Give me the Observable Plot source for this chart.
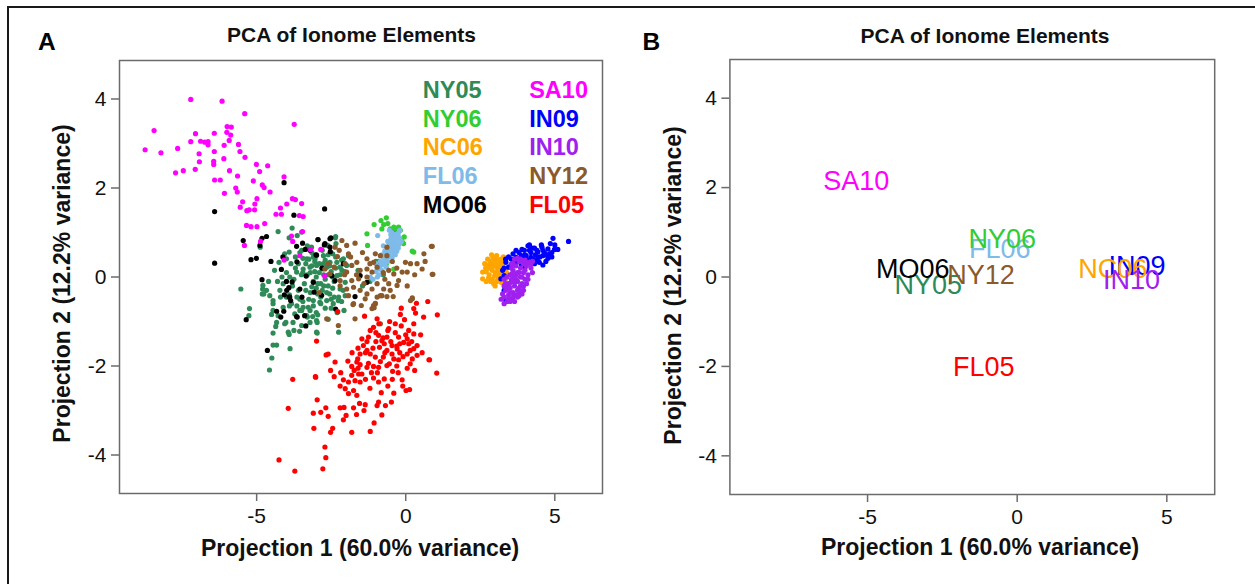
<!DOCTYPE html>
<html><head><meta charset="utf-8">
<script src="https://cdn.jsdelivr.net/npm/d3@7"></script>
<script src="https://cdn.jsdelivr.net/npm/@observablehq/plot@0.6"></script>
<style>
body{margin:0;background:#fff;}
#fig{position:relative;width:1255px;height:584px;overflow:hidden;background:#fff;}
#border{position:absolute;left:7px;top:6px;width:1300px;height:700px;border-top:2px solid #1a1a1a;border-left:2px solid #1a1a1a;}
#panels{position:absolute;left:0;top:0;display:flex;}
#panels svg{display:block;max-width:none;}
</style></head><body>
<div id="fig"><div id="border"></div><div id="panels"></div></div>
<script>
const FONT = "'Liberation Sans', Arial, Helvetica, sans-serif";
const titleText = "PCA of Ionome Elements";
const xLabel = "Projection 1 (60.0% variance)";
const yLabel = "Projection 2 (12.2% variance)";
const xTicks = [-5, 0, 5];
const yTicks = [-4, -2, 0, 2, 4];
const xDomain = [-9.6, 6.6];
const yDomain = [-4.865, 4.865];

const seriesNames  = ["NY05","NY06","NC06","FL06","MO06","SA10","IN09","IN10","NY12","FL05"];
const seriesColors = ["#2E8B57","#32CD32","#FFA500","#7EBBE9","#000000","#FF00FF","#0000FF","#A020F0","#8B5A2B","#FF0000"];
const legendCol1 = ["NY05","NY06","NC06","FL06","MO06"];
const legendCol2 = ["SA10","IN09","IN10","NY12","FL05"];

// Panel B: group label positions
const centroidX = [-2.97, -0.50, 3.19, -0.58, -3.49, -5.38, 4.00, 3.82, -1.21, -1.12];
const centroidY = [-0.19,  0.85, 0.17,  0.62,  0.17,  2.13, 0.24, -0.08, 0.03, -2.03];

// Panel A: sample points [projection1, projection2]
const NY05 = [[-3.81,1.10],[-4.28,1.02],[-4.88,0.67],[-3.64,0.93],[-3.49,1.01],[-3.91,0.88],[-2.95,0.84],[-2.35,0.91],[-2.34,0.75],[-2.62,0.71],[-3.16,0.67],[-2.76,0.48],[-2.45,0.52],[-3.04,0.41],[-3.49,0.60],[-3.91,0.56],[-4.06,0.52],[-4.00,0.41],[-3.32,0.41],[-4.25,0.33],[-5.53,-0.27],[-5.24,-0.71],[-5.26,-0.87],[-4.79,-0.19],[-4.67,-0.30],[-4.81,-0.38],[-4.56,-0.42],[-4.45,-0.53],[-4.45,-0.75],[-4.28,-0.87],[-4.33,-1.02],[-4.06,-1.05],[-3.78,-1.02],[-3.49,-1.09],[-3.21,-1.02],[-2.99,-0.98],[-3.94,-1.24],[-3.56,-1.22],[-2.99,-1.24],[-4.22,-0.30],[-4.11,-0.15],[-3.89,0.00],[-3.66,0.11],[-3.44,0.18],[-3.21,0.22],[-2.99,0.26],[-2.76,0.30],[-2.54,0.33],[-2.31,0.33],[-2.09,0.41],[-1.92,0.48],[-1.98,0.26],[-2.14,0.15],[-2.31,0.03],[-2.03,-0.12],[-2.20,-0.27],[-2.03,-0.42],[-2.26,-0.53],[-2.43,-0.60],[-2.65,-0.53],[-2.88,-0.57],[-3.10,-0.53],[-3.27,-0.68],[-3.49,-0.75],[-3.72,-0.83],[-3.83,-0.60],[-4.00,-0.45],[-4.11,-0.68],[-3.30,0.05],[-3.10,-0.10],[-2.90,0.10],[-2.70,-0.05],[-2.50,0.12],[-3.00,-0.25],[-2.80,-0.30],[-2.60,-0.20],[-3.20,-0.35],[-2.40,-0.10],[-2.90,0.30],[-3.15,0.25],[-2.65,0.22],[-2.75,0.05],[-3.05,0.12],[-3.40,-0.15],[-3.50,0.05],[-2.55,-0.38],[-2.85,-0.45],[-3.25,-0.50],[-2.35,0.20],[-2.20,0.05],[-3.60,-0.30],[-3.70,0.20],[-2.95,-0.15],[-3.35,0.30],[-2.45,-0.25],[-2.10,-0.30],[-2.70,0.38],[-3.55,-0.50],[-3.80,-0.20],[-2.25,-0.45],[-3.10,0.45],[-2.85,-0.60],[-3.45,0.42],[-2.60,0.50],[-4.00,0.10],[-3.90,-0.40],[-4.30,-0.10],[-4.40,0.15],[-2.15,0.38],[-3.65,-0.65],[-3.00,-0.80],[-2.50,-0.70],[-2.30,-0.80],[-3.30,-0.90],[-4.45,-0.60],[-4.76,-0.38],[-4.50,-0.84],[-4.45,-1.26],[-4.36,-1.11],[-4.02,-1.02],[-3.91,-1.29],[-3.88,-1.61],[-4.45,-1.53],[-4.57,-2.09],[-2.97,-1.26],[-2.25,-1.24],[-2.07,-0.75],[-2.97,-1.02],[-3.21,-0.75],[-3.44,-0.68],[-3.32,-0.87],[-3.55,-0.75],[-3.12,-0.89],[-4.33,-1.53],[-4.49,-1.82],[-4.80,-0.27],[-2.36,0.88],[-1.60,0.15],[-1.45,-0.20],[-1.00,0.35],[-0.75,0.05],[-0.90,0.35],[-1.20,-0.10],[-3.20,0.10],[-3.00,0.00],[-2.80,0.18],[-2.60,0.05],[-2.85,-0.15],[-3.15,-0.22],[-2.65,-0.35],[-2.45,0.00],[-3.35,-0.30],[-3.45,0.10],[-2.95,-0.38],[-2.75,-0.20],[-3.05,0.35],[-2.55,0.25],[-3.25,0.40],[-3.60,0.30],[-3.75,-0.05],[-3.65,-0.45],[-2.40,-0.45],[-2.35,0.45],[-3.10,-0.65],[-2.70,-0.70],[-3.45,-0.55],[-3.85,0.30],[-2.20,0.22],[-2.05,0.12],[-3.90,-0.65],[-4.20,-0.45],[-4.15,0.00],[-3.55,0.55],[-2.80,0.60],[-3.30,0.70],[-2.95,-0.85],[-3.75,-1.20],[-2.60,-0.95],[-3.70,0.45],[-4.60,-0.10],[-2.15,-0.55],[-2.50,-0.50],[-3.15,0.55]];
const NY06 = [[-1.06,1.18],[-0.83,1.27],[-0.65,1.33],[-0.74,1.18],[-0.80,1.08],[-0.52,1.08],[-0.40,1.12],[-0.24,1.12],[-0.35,1.01],[-1.28,0.71],[-0.07,0.75],[-0.12,0.78],[-0.29,1.01],[-0.40,0.67],[-0.65,0.30],[-1.30,0.97],[0.22,0.58],[-0.40,0.18],[-0.13,0.82],[0.27,0.56],[-0.45,1.05],[-0.30,1.08],[-0.18,1.05],[-0.60,1.20],[-0.05,0.90]];
const NC06 = [[2.58,0.11],[2.58,-0.04],[2.75,0.25],[2.80,0.05],[2.85,0.35],[2.90,0.15],[2.90,-0.05],[2.95,0.28],[3.00,0.42],[3.00,0.10],[3.05,-0.10],[3.10,0.30],[3.10,0.00],[3.15,0.18],[3.20,0.40],[3.20,-0.12],[3.25,0.25],[3.30,0.05],[3.35,0.35],[3.35,-0.05],[2.80,0.20],[2.95,-0.15],[3.05,0.22],[3.15,0.38],[2.70,0.12],[3.28,0.15],[2.85,-0.10],[3.00,0.32],[3.12,0.08],[2.92,0.45],[3.22,0.08],[3.40,0.20],[2.65,0.30],[2.70,-0.10],[2.75,0.40],[2.88,0.50],[3.05,0.48],[3.18,0.28],[3.28,0.45],[3.30,-0.15],[3.00,-0.20],[2.78,-0.02],[2.88,0.22],[3.08,0.35],[3.18,-0.02],[2.98,0.02],[3.38,0.10],[2.68,0.20],[3.10,0.15],[2.95,0.38],[3.25,0.32],[2.82,0.30]];
const FL06 = [[-0.55,1.05],[-0.45,1.00],[-0.35,0.95],[-0.25,0.98],[-0.40,0.90],[-0.30,0.85],[-0.20,0.88],[-0.50,0.85],[-0.45,0.78],[-0.35,0.75],[-0.25,0.72],[-0.55,0.70],[-0.60,0.62],[-0.50,0.60],[-0.40,0.62],[-0.30,0.58],[-0.65,0.50],[-0.55,0.48],[-0.45,0.45],[-0.70,0.40],[-0.60,0.35],[-0.75,0.28],[-0.85,0.25],[-0.90,0.18],[-1.00,0.12],[-0.80,0.15],[-0.65,0.22],[-0.95,0.00],[-1.10,-0.05],[-0.70,0.58],[-0.80,0.50],[-0.15,0.80],[-0.20,1.05],[-0.75,0.70],[-0.50,0.95],[-1.00,0.30],[-0.85,0.35],[-0.94,0.93],[-1.19,0.00],[-0.35,0.68],[-0.60,0.80],[-0.40,0.80],[-0.30,0.75],[-0.45,0.70],[-0.25,0.65],[-0.55,0.55],[-0.40,0.52],[-0.50,0.72],[-0.30,0.92],[-0.60,0.45],[-0.70,0.30],[-0.80,0.32],[-0.90,0.05],[-0.75,0.45],[-0.35,0.50],[-0.20,0.75]];
const MO06 = [[-4.08,2.12],[-2.72,1.53],[-6.41,1.47],[-3.75,1.39],[-4.67,0.91],[-4.82,0.87],[-5.45,0.82],[-4.89,0.71],[-6.41,0.31],[-5.19,0.39],[-5.01,0.42],[-4.52,0.35],[-4.12,0.45],[-3.66,0.69],[-3.37,0.62],[-2.94,0.84],[-2.54,0.86],[-2.54,0.67],[-2.73,0.72],[-2.53,0.57],[-2.99,0.49],[-3.65,0.34],[-4.17,0.17],[-2.81,0.20],[-4.82,-0.06],[-3.34,0.02],[-3.46,0.76],[-2.71,0.75],[-2.51,0.88],[-3.21,0.60],[-3.01,0.50],[-3.81,-0.11],[-4.00,-0.10],[-3.92,-0.24],[-3.99,-0.30],[-3.55,-0.27],[-3.91,-0.45],[-3.86,-0.53],[-4.33,-0.77],[-4.09,-0.77],[-3.64,-0.90],[-3.35,-1.10],[-5.35,-0.96],[-2.35,-0.72],[-3.10,-0.12],[-2.48,0.03],[-2.37,-0.08],[-2.09,0.30],[-1.70,-0.44],[-1.53,0.03],[-1.30,-0.12],[-0.44,0.99],[-4.64,-1.65],[-4.19,-0.90],[-3.66,-0.89],[-3.39,-0.87],[-3.48,-0.45],[-4.07,-0.40],[-3.89,-0.45],[-3.07,-0.34],[-2.82,-0.41]];
const SA10 = [[-7.21,3.99],[-6.16,3.95],[-5.40,3.67],[-3.74,3.43],[-8.44,3.29],[-7.05,3.22],[-6.42,3.23],[-5.99,3.38],[-5.85,3.37],[-6.00,3.25],[-5.87,3.19],[-7.21,3.04],[-6.88,3.05],[-6.74,3.03],[-6.63,3.04],[-6.63,2.97],[-5.92,3.07],[-6.09,2.96],[-5.61,2.98],[-8.74,2.86],[-8.21,2.79],[-7.65,2.89],[-6.93,2.77],[-6.42,2.82],[-5.56,2.82],[-5.39,2.69],[-6.10,2.66],[-6.92,2.59],[-6.44,2.60],[-6.44,2.53],[-5.01,2.53],[-4.63,2.50],[-7.72,2.34],[-7.46,2.39],[-7.06,2.42],[-5.91,2.39],[-4.90,2.37],[-5.64,2.27],[-4.08,2.25],[-6.41,2.18],[-6.22,2.18],[-5.11,2.16],[-4.81,2.07],[-4.75,2.01],[-5.70,2.00],[-5.65,1.91],[-6.08,1.88],[-4.55,1.91],[-4.99,1.76],[-5.47,1.69],[-5.06,1.64],[-5.55,1.57],[-3.80,1.76],[-3.70,1.74],[-3.99,1.64],[-3.49,1.65],[-5.33,1.49],[-5.25,1.51],[-5.07,1.51],[-4.20,1.55],[-4.35,1.41],[-4.17,1.41],[-3.57,1.38],[-3.44,1.36],[-5.34,1.16],[-5.19,1.13],[-4.99,1.13],[-4.73,1.20],[-3.46,1.02],[-3.83,0.92],[-4.87,0.80],[-3.79,0.80],[-5.41,0.71],[-3.55,0.48],[-4.08,0.38],[-3.19,0.61],[-2.85,0.62],[-2.72,0.02]];
const IN09 = [[4.94,0.87],[5.46,0.80],[4.15,0.72],[4.32,0.65],[4.57,0.67],[4.77,0.63],[4.99,0.62],[4.82,0.52],[4.60,0.48],[4.43,0.44],[4.20,0.44],[4.04,0.48],[3.87,0.48],[3.70,0.44],[3.53,0.41],[3.36,0.33],[3.53,0.26],[3.70,0.33],[3.87,0.30],[4.26,0.41],[4.60,0.27],[4.77,0.42],[3.25,0.15],[3.30,0.03],[3.19,-0.04],[3.30,-0.30],[3.36,-0.53],[3.98,0.60],[4.09,0.33],[4.43,0.56],[4.32,0.30],[3.76,0.41],[3.98,0.41],[4.48,0.33],[4.10,0.70],[3.60,0.35],[4.65,0.55],[3.45,0.22],[4.00,0.22],[4.40,0.60],[3.80,0.55],[4.00,0.50],[4.20,0.55],[4.35,0.50],[4.50,0.45],[4.70,0.50],[4.90,0.55],[5.00,0.72],[4.85,0.75],[4.60,0.60],[4.25,0.65],[3.60,0.52],[3.45,0.45],[3.35,0.40],[4.70,0.35],[4.40,0.38],[4.15,0.60],[3.90,0.62],[5.10,0.62],[4.55,0.72],[3.70,0.60],[4.90,0.45],[3.30,0.20],[4.05,0.40]];
const IN10 = [[4.15,0.33],[4.05,0.25],[4.20,0.20],[3.95,0.30],[3.85,0.20],[3.95,0.10],[4.10,0.05],[3.75,0.10],[3.85,0.00],[4.00,-0.05],[3.65,0.00],[3.75,-0.10],[3.90,-0.15],[3.55,-0.10],[3.65,-0.20],[3.80,-0.25],[3.50,-0.25],[3.60,-0.35],[3.70,-0.40],[3.45,-0.40],[3.35,-0.30],[3.25,-0.38],[3.40,-0.55],[3.55,-0.50],[3.30,-0.20],[3.45,-0.15],[3.60,0.15],[3.70,0.25],[3.50,0.05],[3.40,0.00],[3.95,-0.30],[3.85,-0.35],[4.05,-0.15],[3.75,-0.45],[3.30,-0.05],[4.25,0.10],[3.60,-0.45],[3.90,0.35],[3.80,0.35],[3.55,0.20],[4.10,0.32],[3.60,0.30],[3.80,0.10],[3.90,0.00],[3.70,-0.05],[3.55,-0.05],[3.65,-0.12],[3.75,-0.30],[3.85,-0.20],[3.50,-0.35],[3.40,-0.25],[3.45,-0.48],[3.65,-0.55],[3.30,-0.45],[3.20,-0.50],[3.55,0.30],[3.65,0.40],[3.85,0.40],[4.00,0.15],[4.20,0.30],[4.10,-0.05],[3.95,-0.20],[3.70,0.05],[3.58,0.08],[3.48,-0.15],[3.35,-0.15],[3.80,-0.42],[3.50,-0.55],[4.00,0.38],[4.25,0.35],[3.90,-0.38],[3.30,-0.60],[3.75,0.42]];
const NY12 = [[-2.14,0.82],[-1.98,0.71],[-1.70,0.76],[-2.23,0.60],[-1.92,0.52],[-2.29,0.46],[-2.03,0.30],[-1.81,0.26],[-1.64,0.33],[-1.53,0.15],[-1.30,0.18],[-1.98,0.11],[-2.20,-0.08],[-1.81,-0.08],[-1.58,-0.04],[-1.30,0.00],[-1.13,0.11],[-0.96,0.22],[-1.08,0.33],[-1.30,0.41],[-1.02,0.52],[-0.85,0.48],[-0.63,0.67],[-0.63,0.48],[-0.57,0.15],[-0.40,0.07],[-0.24,-0.08],[-0.57,-0.15],[-0.74,-0.27],[-0.96,-0.15],[-1.13,-0.27],[-1.30,-0.38],[-1.53,-0.30],[-1.75,-0.23],[-1.98,-0.27],[-1.92,-0.42],[-1.36,-0.49],[-1.02,-0.60],[-0.96,-0.45],[-0.85,-0.42],[-0.63,-0.44],[-0.52,-0.30],[-0.29,-0.19],[-0.01,0.33],[0.16,0.30],[-0.12,0.11],[0.05,0.11],[0.38,0.30],[0.61,0.52],[0.86,0.69],[0.55,0.18],[0.91,0.06],[0.22,-0.49],[0.16,-0.53],[-1.13,-0.71],[-1.08,-0.64],[-1.75,-0.60],[-1.70,-0.94],[-2.65,-0.94],[-2.26,-1.09],[-2.37,0.67],[-2.40,0.22],[-2.71,0.18],[-2.54,0.07],[-0.80,-0.42],[-0.42,-0.44],[-1.02,-0.59],[-1.06,-0.69],[-0.85,-1.05],[0.22,-0.47],[-1.49,-0.64],[-1.77,-0.62],[0.89,0.69],[0.89,0.06],[-2.90,-0.35],[-2.60,0.30],[-2.20,-0.20],[-1.45,0.55],[-1.20,0.30],[-0.75,0.10],[-1.65,0.05],[-0.45,0.35],[-0.30,0.20],[0.30,0.05],[0.05,-0.20],[-1.85,0.45],[-1.40,-0.15],[-0.70,-0.05],[0.65,0.35],[-2.05,0.05]];
const FL05 = [[-2.28,-0.78],[-1.38,-0.88],[-0.96,-0.94],[-0.54,-1.00],[-0.35,-1.05],[-0.18,-0.84],[-0.04,-0.96],[0.27,-0.71],[0.33,-0.81],[0.27,-1.05],[0.36,-0.59],[0.74,-0.55],[1.06,-0.85],[-2.99,-1.44],[-2.67,-1.75],[-2.60,-1.73],[-2.37,-1.91],[-2.52,-2.10],[-2.18,-2.15],[-2.40,-2.24],[-3.02,-2.25],[-3.79,-2.30],[-1.94,-1.89],[-1.81,-2.01],[-1.64,-1.91],[-1.53,-1.97],[-1.73,-2.10],[-1.47,-2.18],[-1.30,-2.03],[-1.25,-1.94],[-1.08,-2.01],[-0.91,-2.03],[-1.53,-1.73],[-1.42,-1.54],[-1.47,-1.39],[-1.25,-1.35],[-1.19,-1.20],[-0.91,-1.31],[-0.76,-1.37],[-0.63,-1.35],[-0.72,-1.50],[-0.63,-1.65],[-0.46,-1.73],[-0.40,-1.84],[-0.24,-1.86],[-0.09,-1.79],[0.05,-1.73],[0.22,-1.84],[0.38,-1.76],[0.27,-1.61],[0.10,-1.50],[0.05,-1.39],[0.27,-1.28],[0.10,-1.20],[0.38,-1.54],[-0.07,-1.47],[-0.29,-1.61],[-0.46,-1.54],[-0.88,-1.58],[-1.02,-1.80],[-1.19,-1.73],[-1.30,-1.65],[-1.61,-1.84],[-1.81,-2.21],[-1.70,-2.33],[-1.92,-2.36],[-2.09,-2.31],[-2.03,-2.51],[-1.92,-2.62],[-1.75,-2.55],[-1.64,-2.66],[-1.58,-2.18],[-1.53,-2.36],[-1.08,-2.27],[-0.91,-2.36],[-0.72,-2.29],[-0.44,-2.12],[-0.12,-2.31],[0.78,-1.86],[1.04,-2.16],[0.01,-2.55],[0.13,-2.53],[-0.40,-2.61],[-0.82,-2.60],[-0.91,-2.81],[-0.96,-2.89],[-0.68,-2.89],[-0.48,-2.81],[-1.36,-2.87],[-1.55,-2.84],[-1.75,-2.94],[-2.07,-2.93],[-2.20,-2.94],[-2.00,-3.11],[-1.65,-3.09],[-2.09,-3.21],[-1.06,-3.28],[-1.19,-3.47],[-1.81,-3.49],[-2.45,-3.40],[-2.52,-3.49],[-2.60,-3.13],[-2.85,-3.04],[-3.10,-3.06],[-2.68,-2.94],[-2.97,-2.76],[-3.94,-2.95],[-3.08,-3.40],[-2.71,-3.82],[-2.68,-4.06],[-2.78,-4.31],[-4.25,-4.11],[-3.72,-4.36],[-0.63,-1.99],[-0.57,-1.16],[-0.24,-1.35],[-0.20,-1.50],[-1.08,-1.13],[-0.80,-1.43],[0.80,-1.86],[-3.03,-2.24],[-0.70,-1.70],[-0.55,-1.95],[-0.30,-2.00],[-0.85,-1.90],[-1.15,-2.15],[-0.20,-1.70],[0.15,-1.95],[-0.50,-1.45],[-1.35,-1.70],[-1.60,-2.05],[-1.00,-1.45],[-0.60,-1.20],[-0.35,-1.25],[-0.15,-1.10],[0.00,-1.30],[0.20,-1.45],[-1.00,-1.25],[-1.30,-1.45],[-1.10,-1.60],[-0.75,-1.80],[-0.45,-2.30],[-0.25,-2.15],[0.05,-2.05],[0.30,-2.10],[-0.95,-2.15],[-1.35,-2.30],[-1.20,-2.50],[-0.60,-2.45],[-0.30,-1.55],[0.15,-1.65],[-0.90,-1.05],[-1.60,-1.60],[-0.10,-2.45],[0.50,-1.30],[0.55,-1.70],[-1.80,-1.70],[-2.20,-2.45],[-1.40,-3.00],[-0.80,-3.10],[0.60,-0.90],[-0.15,-0.70]];

const pointsBySeries = {NY05, NY06, NC06, FL06, MO06, SA10, IN09, IN10, NY12, FL05};
const colorOf = Object.fromEntries(seriesNames.map((n, i) => [n, seriesColors[i]]));
const drawOrderA = ["NY05","NY06","MO06","FL06","NY12","SA10","NC06","IN09","IN10","FL05"];
const drawOrderB = ["IN09","NC06","IN10","FL06","NY06","NY05","MO06","NY12","SA10","FL05"];

function axisMarks() {
  return [
    Plot.frame({stroke: "#6b6b6b", strokeWidth: 1.5}),
    Plot.axisX({ticks: xTicks, tickSize: 8, tickPadding: 7, fontSize: 21, stroke: "#6b6b6b", strokeWidth: 1.5, fill: "#111", tickFormat: d => String(d), label: null}),
    Plot.axisY({ticks: yTicks, tickSize: 8, tickPadding: 5, fontSize: 21, stroke: "#6b6b6b", strokeWidth: 1.5, fill: "#111", tickFormat: d => String(d), label: null})
  ];
}

function textMarks(o) {
  return [
    Plot.text([o.letter], {text: d => d, frameAnchor: "top-left", dx: o.letterDx, dy: o.letterDy, lineAnchor: "bottom", textAnchor: "start", fontSize: 24.5, fontWeight: "bold", fill: "#000"}),
    Plot.text([titleText], {text: d => d, frameAnchor: "top", dx: o.titleDx, dy: o.titleDy, lineAnchor: "bottom", textAnchor: "middle", fontSize: 21, fontWeight: "bold", fill: "#111", ariaLabel: "title"}),
    Plot.text([xLabel], {text: d => d, frameAnchor: "bottom", dx: o.xlDx, dy: o.xlDy, lineAnchor: "bottom", textAnchor: "middle", fontSize: 23, fontWeight: "bold", fill: "#111"}),
    Plot.text([yLabel], {text: d => d, frameAnchor: "left", rotate: -90, dx: o.ylDx, dy: o.ylDy, lineAnchor: "bottom", textAnchor: "middle", fontSize: 23, fontWeight: "bold", fill: "#111"})
  ];
}

// Panel A
const dotsA = drawOrderA.map(name => Plot.dot(pointsBySeries[name], {x: d => d[0], y: d => d[1], r: 2.6, fill: colorOf[name], stroke: "none"}));
const legendA = [
  ...legendCol1.map((name, i) => Plot.text([name], {text: d => d, frameAnchor: "top-left", dx: 303.3, dy: 37.6 + i * 28.6, textAnchor: "start", lineAnchor: "bottom", fontSize: 23.5, fontWeight: "bold", fill: colorOf[name]})),
  ...legendCol2.map((name, i) => Plot.text([name], {text: d => d, frameAnchor: "top-left", dx: 409.7, dy: 37.6 + i * 28.6, textAnchor: "start", lineAnchor: "bottom", fontSize: 23.5, fontWeight: "bold", fill: colorOf[name]}))
];
const chartA = Plot.plot({
  width: 620, height: 584,
  marginLeft: 119, marginRight: 18, marginTop: 60, marginBottom: 91,
  x: {domain: xDomain},
  y: {domain: yDomain},
  style: {fontFamily: FONT, background: "transparent", overflow: "visible"},
  marks: [
    ...dotsA,
    ...axisMarks(),
    ...legendA,
    ...textMarks({letter: "A", letterDx: -81.4, letterDy: -10.8, titleDx: -9.5, titleDy: -18.3, xlDx: -0.9, xlDy: 62, ylDx: -49.8, ylDy: 6.5})
  ]
});

// Panel B
const labelsB = drawOrderB.map(name => {
  const i = seriesNames.indexOf(name);
  return Plot.text([i], {x: k => centroidX[k], y: k => centroidY[k], text: k => seriesNames[k], fill: seriesColors[i], fontSize: 27, lineAnchor: "middle", textAnchor: "middle"});
});
const chartB = Plot.plot({
  width: 635, height: 584,
  marginLeft: 109.4, marginRight: 40.8, marginTop: 59, marginBottom: 90,
  x: {domain: xDomain},
  y: {domain: yDomain},
  style: {fontFamily: FONT, background: "transparent", overflow: "visible"},
  marks: [
    ...labelsB,
    ...axisMarks(),
    ...textMarks({letter: "B", letterDx: -87.4, letterDy: -9.8, titleDx: 12.7, titleDy: -17, xlDx: 7.8, xlDy: 60, ylDx: -48.6, ylDy: 8.5})
  ]
});

const panels = document.getElementById("panels");
panels.appendChild(chartA);
panels.appendChild(chartB);
d3.selectAll('#panels g[aria-label="title"] text').style("letter-spacing", "1.1px");
</script>
</body></html>
